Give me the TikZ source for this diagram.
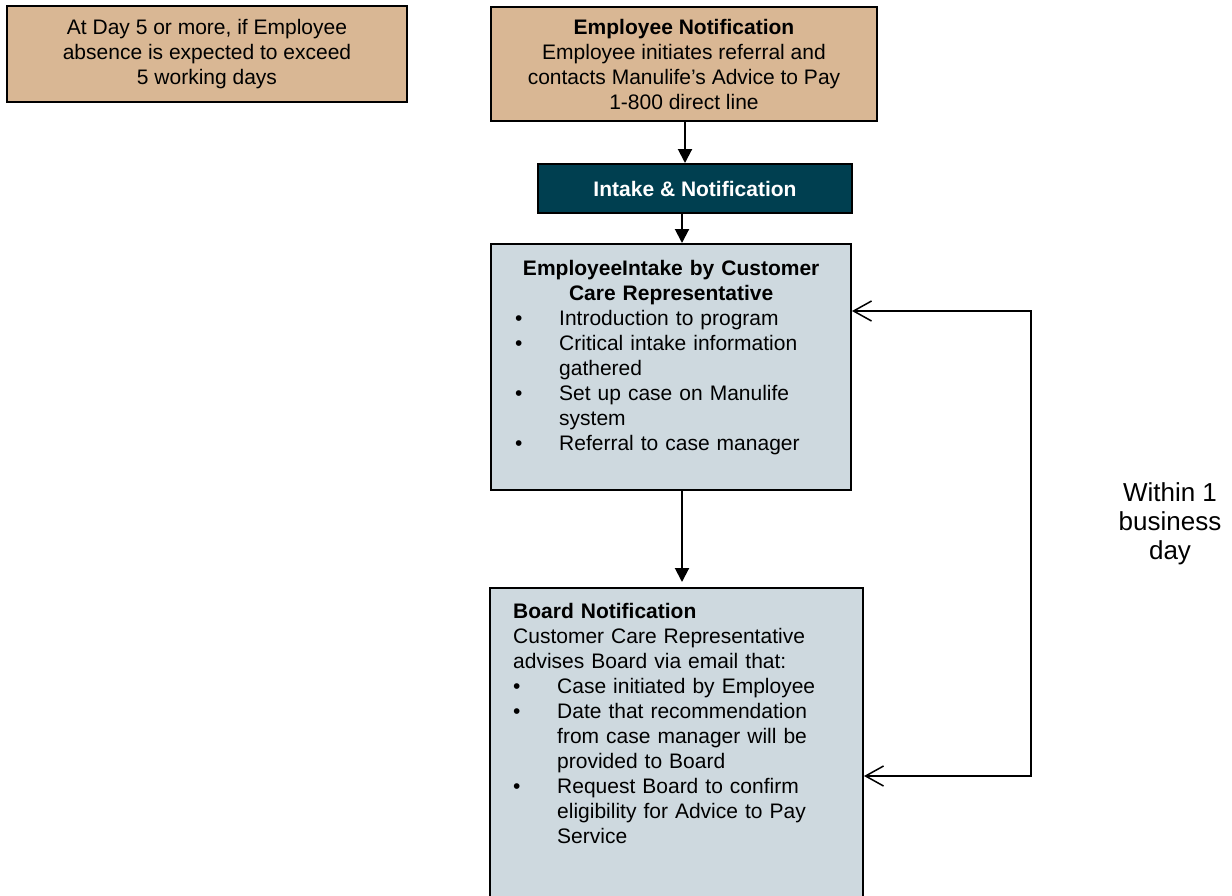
\documentclass[tikz,border=0pt]{standalone}
\usepackage{fontspec}
\setmainfont{Liberation Sans}
\usetikzlibrary{arrows.meta}
\definecolor{boxtan}{HTML}{D9B794}
\definecolor{boxteal}{HTML}{003F50}
\definecolor{boxgrey}{HTML}{CED9DF}
\newcommand{\bulletline}[1]{\par\hangindent=44pt\hangafter=1\noindent\makebox[44pt][l]{\textbullet}#1}
\begin{document}
\begin{tikzpicture}[x=1pt,y=-1pt,
  box/.style={draw=black, line width=2pt, inner sep=0pt, rectangle},
  tanbox/.style={box, fill=boxtan, align=center, font=\fontsize{21}{25}\selectfont},
  tealbox/.style={box, fill=boxteal, text=white, align=center, font=\fontsize{21}{25}\selectfont\bfseries},
  greybox/.style={box, fill=boxgrey},
  txt/.style={inner sep=0pt, anchor=north west, font=\fontsize{21}{25}\selectfont},
  flow/.style={line width=2pt, -{Triangle[length=14pt,width=14pt]}},
  loopline/.style={line width=1.5pt, {Straight Barb[length=18pt,width=20pt]}-{Straight Barb[length=18pt,width=20pt]}}
]
\useasboundingbox (0,0) rectangle (1232,895);
\clip (0,0) rectangle (1232,895);

% boxes
\node[tanbox, minimum width=400pt, minimum height=96pt] (A) at (207,54)
  {At Day 5 or more, if Employee\\absence is expected to exceed\\5 working days};
\node[tanbox, minimum width=386pt, minimum height=114pt] (B) at (684,64)
  {\textbf{Employee Notification}\\Employee initiates referral and\\contacts Manulife’s Advice to Pay\\1-800 direct line};
\node[tealbox, minimum width=314pt, minimum height=49pt] (C) at (695,188.5)
  {Intake \& Notification};
\node[greybox, minimum width=360pt, minimum height=246pt] (D) at (671,367) {};
\node[greybox, minimum width=373pt, minimum height=317pt] (E) at (676.5,746.5) {};

% box texts
\node[txt, text width=312pt] (Dt) at (515,260) {%
  {\centering\bfseries EmployeeIntake by Customer\\Care Representative\par}%
  \bulletline{Introduction to program}%
  \bulletline{Critical intake information\newline gathered}%
  \bulletline{Set up case on Manulife\newline system}%
  \bulletline{Referral to case manager}\par};
\node[txt, text width=340pt] (Et) at (513,603) {%
  \noindent\textbf{Board Notification}\newline Customer Care Representative\newline advises Board via email that:%
  \bulletline{Case initiated by Employee}%
  \bulletline{Date that recommendation\newline from case manager will be\newline provided to Board}%
  \bulletline{Request Board to confirm\newline eligibility for Advice to Pay\newline Service}\par};

\node[align=center, inner sep=0pt, font=\fontsize{26}{29}\selectfont] (W) at (1170,524)
  {Within 1\\business\\day};

% connectors
\coordinate (ax1) at (685,0);
\coordinate (ax2) at (682,0);
\draw[flow] (B.south -| ax1) -- (C.north -| ax1);
\draw[flow] (C.south -| ax2) -- (D.north -| ax2);
\draw[flow, shorten >=5pt] (D.south -| ax2) -- (E.north -| ax2);

\coordinate (lt) at (1031,311);
\coordinate (lb) at (1031,776);
\draw[loopline] (lt -| D.east) -- (lt) -- (lb) -- (lb -| E.east);
\end{tikzpicture}
\end{document}
